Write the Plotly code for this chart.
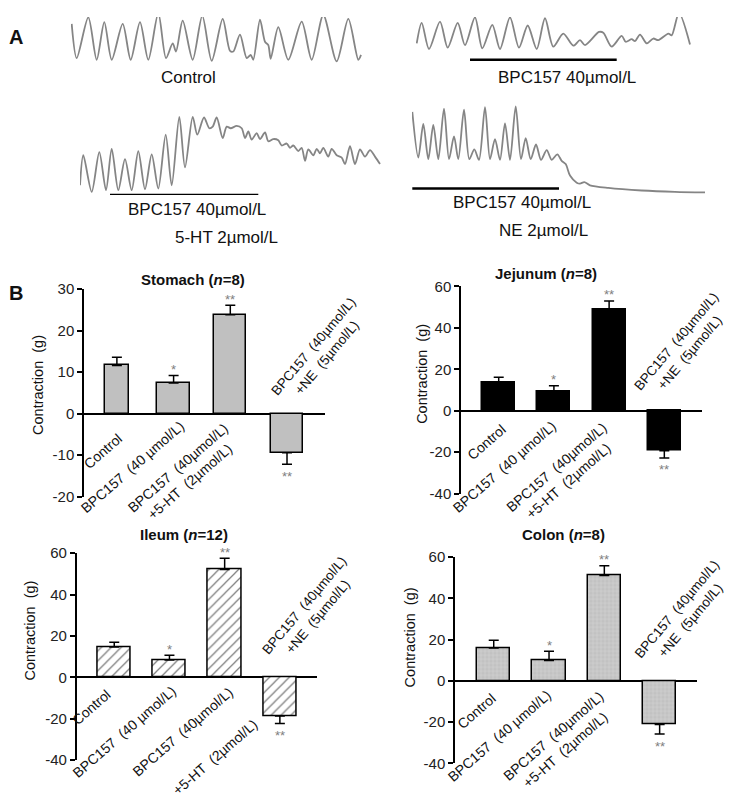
import plotly.graph_objects as go

FONT = "Arial, 'Liberation Sans', Helvetica, sans-serif"
# the page body keeps its default 8px margin; the figure is sized so the page fits the window exactly
OX, OY = 8, 8
W, H = 734, 792

# ---------------- Panel A: contraction traces (time, amplitude) ----------------
ctrl_t = [0.7, 5.7, 17.3, 25.7, 33.3, 40.7, 51.7, 59.7, 69, 77.3, 87.3, 95, 101.7, 105, 111.7, 121.7, 131.3,
          140.7, 151.7, 159, 162.3, 169, 175.7, 179.7, 182.3, 189, 194, 197.3, 199.7, 207.3, 217.3, 230.7,
          240.7, 252.3, 265.7, 277.3, 287.3, 290]
ctrl_a = [45, 10, 51.7, 8.3, 46.7, 8.3, 45, 8.3, 46.7, 8.3, 56, 10, 25, 16.7, 48.3, 8.3, 53.3, 7.3, 50, 17.3,
          16.7, 34, 10, 13.3, 8.3, 49.3, 26.7, 23.3, 9.3, 41.7, 8.3, 47.3, 8.3, 54, 6.7, 50, 8.3, 13.3]

bpc_t = [0.7, 5.7, 13, 24, 31.7, 41.7, 49, 59, 66.3, 76.3, 84, 94, 103, 111.7, 120.7, 129, 137.3, 147.3, 157.3,
         164, 169, 183, 187.3, 195.7, 205.7, 209.7, 215.7, 219, 224, 230.7, 237.3, 242.3, 252.3, 255.7, 263, 274]
bpc_a = [25, 46, 19.3, 47.3, 20.7, 46, 23.3, 51.7, 20, 44, 19.3, 51.7, 20.7, 43.3, 19.3, 50.7, 21.7, 35, 22.7,
         28.3, 23.3, 36.7, 36, 21.7, 32.7, 26.7, 29.3, 27.3, 34, 25, 30, 28.3, 35, 33.3, 56, 24]

ht_t = [0, 3.3, 11.7, 19.3, 26, 31.7, 38.3, 45, 51.7, 58.3, 65, 71.7, 78.3, 85.7, 91.7, 99.3, 105, 112.7, 117.3,
        124, 129.3, 132.7, 136.7, 142.7, 146.7, 150.7, 156.7, 161.7, 165, 168.3, 171.7, 176.7, 180, 185, 188.3,
        193.3, 198.3, 201.7, 206.7, 210, 213.3, 218.3, 221.7, 225, 228.3, 233.3, 236.7, 240, 243.3, 248.3, 251.7,
        256.7, 261.7, 265, 270, 275, 280, 285, 290, 295, 300]
ht_a = [10, 40.7, 3.3, 44, 5, 47.3, 5, 36.7, 5, 45, 6, 41.7, 6.7, 61.7, 10, 80, 28.3, 80, 61.7, 79.3, 68.3, 70,
        79.3, 58.3, 70, 68.3, 70.7, 68.3, 58.3, 65, 56.7, 63.3, 57.3, 64, 55, 57.3, 56, 50.7, 52.7, 48.3, 50.7,
        45, 48.3, 35, 46.7, 40.7, 47.3, 42.7, 48.3, 39.3, 47.3, 40.7, 38.3, 31.7, 50, 31.7, 46.7, 39.3, 46, 39.3,
        31.7]

ne_t = [0.3, 6.3, 11.3, 16.3, 21.3, 26.3, 32, 37, 42, 46.3, 52, 57.3, 62.3, 67, 73, 78, 83, 88, 93, 98, 103.7,
        109, 113.7, 118.7, 124, 129, 134.7, 139.7, 145.3, 149.7, 153.7, 158, 164.7, 168, 172.3, 178, 196.3,
        229.7, 263, 293]
ne_a = [85, 38.3, 72.7, 36.7, 71.7, 36.7, 88.3, 36.7, 60, 36.7, 87.3, 36.7, 46.7, 36, 90, 36.7, 57.3, 36, 73.3,
        36, 90.7, 36.7, 58.3, 36.7, 51.7, 36, 46, 36, 41.7, 35, 31.7, 20, 12.7, 11.7, 13.3, 10, 7.3, 4.7, 3.3, 2.7]

# drug application periods (start, end) in trace time units
bpc_alone_period = [54, 200.7]
ht_bpc_period = [30, 178.3]
ht_5ht_period = [95, 174]
ne_bpc_period = [0.3, 147]
ne_ne_period = [59, 137]

# ---------------- Panel B: contraction bars ----------------
categories = ["Control", "BPC157 (40 µmol/L)", "BPC157 (40µmol/L) +5-HT (2µmol/L)",
              "BPC157 (40µmol/L) +NE (5µmol/L)"]
stomach_mean = [11.6, 7.4, 23.8, -9.4]
stomach_sem = [2.0, 1.8, 2.3, 2.8]
jejunum_mean = [13.7, 9.3, 48.9, -19.4]
jejunum_sem = [2.4, 2.7, 4.1, 3.4]
ileum_mean = [14.6, 8.4, 52.1, -18.7]
ileum_sem = [2.4, 2.3, 5.5, 3.6]
colon_mean = [15.9, 9.9, 51.1, -21.2]
colon_sem = [3.8, 4.4, 4.7, 4.6]
significance = ["", "*", "**", "**"]

fig = go.Figure()


def fx(px):
    return (px - OX) / W


def fy(py):
    return 1 - (py - OY) / H


annotations = []
shapes = []
layout_axes = {}

# ---------- traces ----------
trace_specs = [
    # (t, a, box x0, x1, ytop, ybottom) in page pixels
    (ctrl_t, ctrl_a, 71, 362, 0, 60),
    (bpc_t, bpc_a, 416, 691, 0, 60),
    (ht_t, ht_a, 80, 382, 100, 190),
    (ne_t, ne_a, 412, 706, 98, 190),
]
for k, (t, a, x0, x1, yt, yb) in enumerate(trace_specs):
    n = 5 + k
    fig.add_trace(go.Scatter(x=t, y=a, mode="lines",
                             line=dict(color="#858585", width=1.8, shape="spline", smoothing=0.8),
                             xaxis=f"x{n}", yaxis=f"y{n}", hoverinfo="skip", cliponaxis=False))
    layout_axes[f"xaxis{n}"] = dict(domain=[fx(x0), fx(x1)], range=[0, x1 - x0], visible=False,
                                    anchor=f"y{n}", fixedrange=True)
    layout_axes[f"yaxis{n}"] = dict(domain=[max(0, fy(yb)), min(1, fy(yt))],
                                    range=[0, yb - max(yt, OY)], visible=False,
                                    anchor=f"x{n}", fixedrange=True)


def drug_bar(n, period, level):
    shapes.append(dict(type="line", xref=f"x{n}", yref=f"y{n}", x0=period[0], x1=period[1],
                       y0=level, y1=level, line=dict(color="black", width=2.6)))


drug_bar(6, bpc_alone_period, 8.3)
drug_bar(7, ht_bpc_period, 0)
drug_bar(7, ht_5ht_period, -26.7)
drug_bar(8, ne_bpc_period, 6.7)
drug_bar(8, ne_ne_period, -20.7)


def ptext(text, x, y, size=17, **kw):
    d = dict(text=text, x=fx(x), y=fy(y), xref="paper", yref="paper", showarrow=False,
             font=dict(family=FONT, size=size, color="#111"), xanchor="center", yanchor="middle")
    d.update(kw)
    annotations.append(d)


ptext("Control", 188.3, 70)
ptext("BPC157 40µmol/L", 566.7, 70)
ptext("BPC157 40µmol/L", 196.7, 205)
ptext("5-HT 2µmol/L", 226.7, 233.3)
ptext("BPC157 40µmol/L", 521.7, 197.3)
ptext("NE 2µmol/L", 543.3, 226)
ptext("<b>A</b>", 16, 28, size=20)
ptext("<b>B</b>", 16, 290, size=20)

# ---------- bar panels ----------
SP = "\u00a0"
lab_ctrl = "Control"
lab_bpc = "BPC157" + SP + " (40 µmol/L)"
lab_ht = "BPC157" + SP + " (40µmol/L)<br>+5-HT" + SP + " (2µmol/L)"
lab_ne = "BPC157" + SP + " (40µmol/L)<br>+NE" + SP + " (5µmol/L)"

panels = [
    dict(title="Stomach (<i>n</i>=8)", mean=stomach_mean, sem=stomach_sem, x0=84, x1=325, yt=286, yb=498.3,
         yr=[-20, 30], dt=10, xr=[-0.58, 3.67], widths=[0.42, 0.57, 0.57, 0.58],
         marker=dict(color="#c0c0c0"), tpos=(193, 276), ytpos=(38, 384),
         labels=[(lab_ctrl, 128, 427, "tr"), (lab_bpc, 190, 415, "tr"), (lab_ht, 245, 417, "tr"),
                 (lab_ne, 266, 412, "bl")]),
    dict(title="Jejunum (<i>n</i>=8)", mean=jejunum_mean, sem=jejunum_sem, x0=461, x1=701.7, yt=283.3, yb=495,
         yr=[-40, 60], dt=20, xr=[-0.683, 3.677], widths=[0.6] * 4,
         marker=dict(color="black"), tpos=(546, 270), ytpos=(421.7, 373),
         labels=[(lab_ctrl, 511.7, 418.3, "tr"), (lab_bpc, 561.7, 415, "tr"), (lab_ht, 624.3, 416.7, "tr"),
                 (lab_ne, 629, 407, "bl")]),
    dict(title="Ileum (<i>n</i>=12)", mean=ileum_mean, sem=ileum_sem, x0=76.7, x1=316.7, yt=556, yb=767.3,
         yr=[-40, 60], dt=20, xr=[-0.68, 3.667], widths=[0.6] * 4,
         marker=dict(color="white", pattern=dict(shape="/", fgcolor="black", bgcolor="white", size=7,
                                                  solidity=0.18)),
         tpos=(184, 537), ytpos=(30, 635),
         labels=[(lab_ctrl, 116.7, 689.3, "tr"), (lab_bpc, 181.7, 686, "tr"),
                 ("BPC157" + SP + " (40µmol/L)", 238.3, 686.7, "tr"),
                 ("+5-HT" + SP + " (2µmol/L)", 263.3, 720, "tr"), (lab_ne, 257, 676.7, "bl")]),
    dict(title="Colon (<i>n</i>=8)", mean=colon_mean, sem=colon_sem, x0=455, x1=696.7, yt=560, yb=770.7,
         yr=[-40, 60], dt=20, xr=[-0.7, 3.67], widths=[0.6] * 4,
         marker=dict(color="#c6c6c6", pattern=dict(shape="+", fgcolor="#e2e2e2", bgcolor="#c2c2c2", size=4,
                                                    solidity=0.3)),
         tpos=(563, 537), ytpos=(410, 642),
         labels=[(lab_ctrl, 501.7, 693.3, "tr"), (lab_bpc, 556.7, 690, "tr"), (lab_ht, 621, 691.7, "tr"),
                 (lab_ne, 629, 680, "bl")]),
]

for i, p in enumerate(panels):
    n = i + 1
    mean, sem = p["mean"], p["sem"]
    up = [e if v > 0 else 0 for v, e in zip(mean, sem)]
    dn = [0 if v > 0 else e for v, e in zip(mean, sem)]
    mk = dict(p["marker"])
    mk["line"] = dict(color="black", width=1.5)
    fig.add_trace(go.Bar(x=categories, y=mean, width=p["widths"], marker=mk,
                         error_y=dict(type="data", symmetric=False, array=up, arrayminus=dn,
                                      color="black", thickness=1.5, width=5),
                         xaxis=f"x{n}", yaxis=f"y{n}", hoverinfo="skip"))
    layout_axes[f"xaxis{n}"] = dict(domain=[fx(p["x0"]), fx(p["x1"])], range=p["xr"], type="category",
                                    categoryorder="array", categoryarray=categories,
                                    visible=False, anchor=f"y{n}", fixedrange=True)
    ticks = list(range(p["yr"][0], p["yr"][1] + 1, p["dt"]))
    layout_axes[f"yaxis{n}"] = dict(domain=[fy(p["yb"]), fy(p["yt"])], range=p["yr"], anchor=f"x{n}",
                                    tickvals=ticks, ticktext=[str(v) for v in ticks],
                                    showline=True, linecolor="black", linewidth=1.5,
                                    ticks="outside", ticklen=5, tickwidth=1.5, tickcolor="black",
                                    showgrid=False, zeroline=True, zerolinecolor="black", zerolinewidth=1.5,
                                    tickfont=dict(family=FONT, size=15, color="#222"), fixedrange=True)
    # significance stars
    for c, v, e, s in zip(categories, mean, sem, significance):
        if not s:
            continue
        yv = v + e if v > 0 else v - e
        annotations.append(dict(text=s, x=c, y=yv, xref=f"x{n}", yref=f"y{n}", showarrow=False,
                                yshift=6 if v > 0 else -12, xanchor="center", yanchor="middle",
                                font=dict(family=FONT, size=13, color="#808080")))
    ptext("<b>" + p["title"] + "</b>", p["tpos"][0], p["tpos"][1], size=15)
    ptext("Contraction" + SP + " (g)", p["ytpos"][0], p["ytpos"][1], size=14.5, textangle=-90)
    for text, lx, ly, anc in p["labels"]:
        if anc == "tr":
            ptext(text, lx, ly, size=14, textangle=-41, xanchor="right", yanchor="top")
        else:
            ptext(text, lx, ly, size=13.5, textangle=-50, xanchor="left", yanchor="bottom")

fig.update_layout(width=W, height=H, margin=dict(l=0, r=0, t=0, b=0), paper_bgcolor="white",
                  plot_bgcolor="white", showlegend=False, annotations=annotations, shapes=shapes,
                  font=dict(family=FONT), bargap=0, **layout_axes)
fig.write_html("out.html")
